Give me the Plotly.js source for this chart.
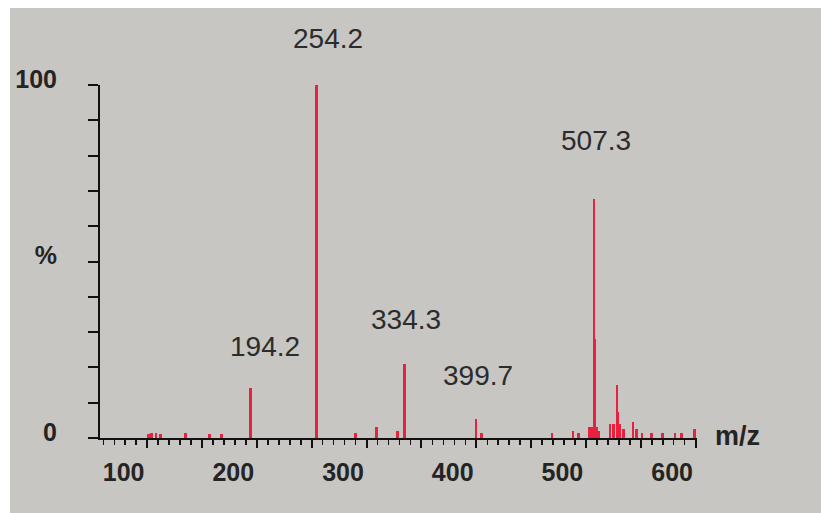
<!DOCTYPE html>
<html>
<head>
<meta charset="utf-8">
<script src="https://cdn.plot.ly/plotly-3.0.1.min.js"></script>
<style>
  html, body { margin: 0; padding: 0; background: #c8c6c2; width: 821px; height: 513px; overflow: hidden; }
  #chart { position: absolute; left: 0; top: 0; width: 821px; height: 513px; }
  .edge { position: absolute; background: #ffffff; z-index: 10; }
</style>
</head>
<body>
<div id="chart"></div>
<div class="edge" style="left:0;top:0;width:821px;height:8px;"></div>
<div class="edge" style="left:0;top:0;width:10px;height:513px;"></div>
<script>
// ---- data ----
const mz = [101, 104, 108, 112, 135, 157, 168, 194.2, 254.2, 290, 309, 328, 334.3,
            399.7, 405, 469, 488, 493, 503, 505, 507.3, 508.3, 510, 512, 522, 525,
            528.3, 529.3, 531, 534, 543, 546, 551, 560, 570, 581, 587, 599];
const intensity = [1, 1.5, 1.5, 1, 1.5, 1, 1, 14.2, 100.8, 1.5, 3, 2, 21,
                   5.3, 1.5, 1.5, 2, 1.5, 3, 3, 67.7, 28, 3, 2, 4, 4,
                   15, 7.5, 4, 2.5, 4.5, 2.5, 1.5, 1.5, 1.5, 1.5, 1.5, 2.5];
const labeledPeaks = [194.2, 254.2, 334.3, 399.7, 507.3];
const xTickLabels = ['100', '200', '300', '400', '500', '600'];
const yTickValues = [0, 50, 100];
const yTickLabels = ['0', '%', '100'];
const xTitle = 'm/z';

// ---- styling ----
const peakColor = '#e8213f';
const bg = '#c8c6c2';
const textColor = '#242424';
const fontFam = 'Liberation Sans, Arial, sans-serif';
const xRange = [57, 601.2];
const yMax = 100;
const labelOffset = 21.5;   // printed tick labels sit left of the true tick marks
const labelShiftX = {194.2: 14, 254.2: 12};
const labelShiftY = {507.3: 59, 194.2: 41, 254.2: 47};

const annotations = labeledPeaks.map(p => ({
  x: p, y: Math.min(intensity[mz.indexOf(p)], yMax), xref: 'x', yref: 'y',
  text: p.toFixed(1), showarrow: false, yanchor: 'middle',
  yshift: labelShiftY[p] || 44, xshift: labelShiftX[p] || 2,
  font: {family: fontFam, size: 28, color: '#2c2c2c'}
}));
annotations.push({
  x: 1.027, y: 0, xref: 'paper', yref: 'y', text: '<b>' + xTitle + '</b>',
  showarrow: false, xanchor: 'left', yanchor: 'middle', yshift: 2,
  font: {family: fontFam, size: 27, color: textColor}
});

const traces = [{
  type: 'bar', x: mz, y: intensity, width: 2.4,
  marker: {color: peakColor, line: {width: 0}},
  cliponaxis: false, hoverinfo: 'x+y'
}, {
  type: 'scatter', x: [], y: [], xaxis: 'x2', yaxis: 'y', showlegend: false, hoverinfo: 'skip'
}];

const layout = {
  width: 821, height: 513,
  margin: {l: 100, r: 124, t: 85, b: 75},
  paper_bgcolor: bg, plot_bgcolor: bg,
  showlegend: false, bargap: 0,
  font: {family: fontFam, color: textColor},
  xaxis: {
    range: xRange, showgrid: false, zeroline: false,
    showline: true, linecolor: '#111', linewidth: 2,
    tick0: 0, dtick: 50, ticks: 'outside', ticklen: 8, tickwidth: 2, tickcolor: '#111',
    showticklabels: false,
    minor: {dtick: 10, tick0: 0, ticks: 'outside', ticklen: 5, tickwidth: 1.5, tickcolor: '#111'}
  },
  xaxis2: {
    overlaying: 'x', anchor: 'y', side: 'bottom',
    range: [xRange[0] + labelOffset, xRange[1] + labelOffset],
    tickvals: xTickLabels.map(Number), ticktext: xTickLabels,
    showgrid: false, zeroline: false, showline: false, ticks: '',
    ticklabelstandoff: 17,
    tickfont: {family: fontFam, size: 25, color: textColor, weight: 'bold'}
  },
  yaxis: {
    range: [0, yMax], showgrid: false, zeroline: false,
    showline: true, linecolor: '#111', linewidth: 2,
    tickvals: yTickValues, ticktext: yTickLabels,
    ticks: 'outside', ticklen: 10, tickwidth: 2, tickcolor: '#111',
    minor: {dtick: 10, tick0: 0, ticks: 'outside', ticklen: 10, tickwidth: 2, tickcolor: '#111'},
    ticklabelstandoff: 26, ticklabelshift: -6,
    tickfont: {family: fontFam, size: 25, color: textColor, weight: 'bold'}
  },
  annotations: annotations
};

Plotly.newPlot('chart', traces, layout, {displayModeBar: false, staticPlot: true});
</script>
</body>
</html>
